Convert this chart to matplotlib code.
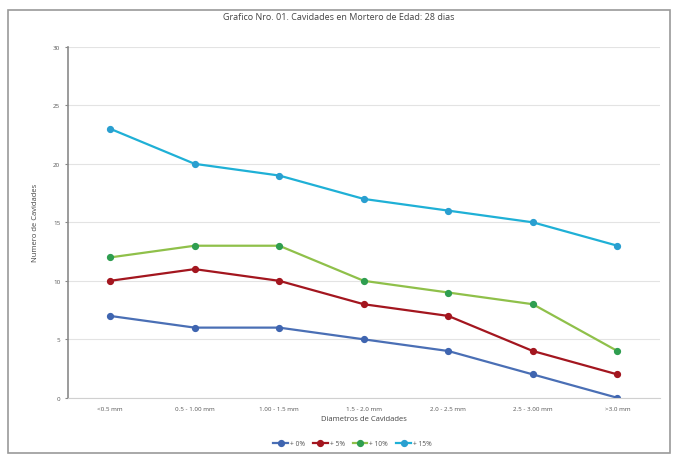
import matplotlib
matplotlib.use("Agg")
import matplotlib.pyplot as plt
from matplotlib.patches import Rectangle

plt.rcParams['font.family'] = ['Open Sans', 'DejaVu Sans']

categories = ["<0.5 mm", "0.5 - 1.00 mm", "1.00 - 1.5 mm", "1.5 - 2.0 mm",
              "2.0 - 2.5 mm", "2.5 - 3.00 mm", ">3.0 mm"]
serie_0 = [7, 6, 6, 5, 4, 2, 0]
serie_5 = [10, 11, 10, 8, 7, 4, 2]
serie_10 = [12, 13, 13, 10, 9, 8, 4]
serie_15 = [23, 20, 19, 17, 16, 15, 13]
labels = ["+ 0%", "+ 5%", "+ 10%", "+ 15%"]
y_ticks = [0, 5, 10, 15, 20, 25, 30]

series = [serie_0, serie_5, serie_10, serie_15]
line_colors = ["#4a6fb5", "#a3161f", "#8fc04a", "#1fb0d6"]
marker_colors = ["#3f65b0", "#a3161f", "#2f9e50", "#2a9fd0"]

fig = plt.figure(figsize=(6.78, 4.60), dpi=100)
fig.patches.append(Rectangle((0.012, 0.012), 0.976, 0.965, transform=fig.transFigure,
                             fill=False, edgecolor="#9a9a9a", linewidth=1.2))

ax = fig.add_axes([0.1, 0.133, 0.873, 0.763])
x = list(range(len(categories)))
for vals, lc, mc, lab in zip(series, line_colors, marker_colors, labels):
    ax.plot(x, vals, color=lc, linewidth=1.6, marker="o", markersize=4.2,
            markerfacecolor=mc, markeredgecolor=mc, label=lab)

ax.set_ylim(0, 30)
ax.set_yticks(y_ticks)
ax.set_xlim(-0.5, len(categories) - 0.5)
ax.set_xticks(x)
ax.set_xticklabels(categories, fontsize=4.5, color="#555555")
ax.tick_params(axis="y", labelsize=4.5, labelcolor="#555555", length=2, color="#888888")
ax.tick_params(axis="x", length=0, pad=6)
ax.grid(axis="y", color="#e3e3e3", linewidth=0.8)
ax.set_axisbelow(True)
for s in ["top", "right"]:
    ax.spines[s].set_visible(False)
ax.spines["left"].set_color("#8a8a8a")
ax.spines["left"].set_linewidth(1.2)
ax.spines["bottom"].set_color("#d0d0d0")

ax.set_xlabel("Diametros de Cavidades", fontsize=5.5, color="#444444", labelpad=3)
ax.set_ylabel("Numero de Cavidades", fontsize=5.5, color="#444444", labelpad=10)
fig.text(0.5, 0.962, "Grafico Nro. 01. Cavidades en Mortero de Edad: 28 dias",
         ha="center", va="center", fontsize=6.5, color="#444444")

fig.legend(loc="center", bbox_to_anchor=(0.52, 0.033), ncol=4, frameon=False,
           fontsize=4.8, handlelength=2.2, columnspacing=1.2, handletextpad=0.3,
           labelcolor="#555555")

fig.savefig("out.png", dpi=100)
